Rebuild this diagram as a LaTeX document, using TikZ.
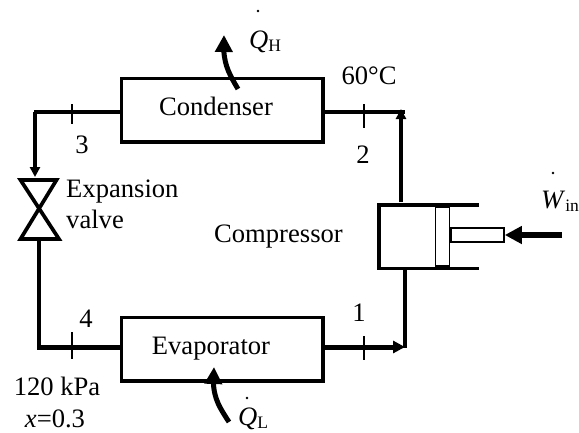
\documentclass[tikz,border=0pt]{standalone}
\usepackage{fontspec}
\setmainfont{Liberation Serif}
\usetikzlibrary{arrows.meta,bending}
\tikzset{
  x=1pt,y=-1pt,
  txt/.style={inner sep=0pt,anchor=base,font=\fontsize{26.6}{30}\selectfont},
  ltxt/.style={txt,anchor=base west},
  box/.style={draw=black,line width=3.7pt,minimum width=201.5pt,minimum height=63.5pt,inner sep=0pt,outer sep=0pt,anchor=north west},
  pipe/.style={draw=black,line width=3.5pt},
  thick pipe/.style={draw=black,line width=5pt},
  tick/.style={draw=black,line width=1.5pt},
  heat/.style={draw=black,line width=5pt,-{Triangle[length=17pt,width=17pt,flex]}},
  tip/.style={-{Triangle[length=10pt,width=10pt]}},
  bigtip/.style={-{Triangle[length=12pt,width=12pt]}},
  part/.style={draw=black,fill=white,line width=1.8pt,inner sep=0pt},
}
\newcommand{\heatlabel}[3]{\node[ltxt] at (#1) {\textit{#2}\raisebox{-0.12em}{\fontsize{17.5}{17.5}\selectfont #3}};}
\begin{document}
\begin{tikzpicture}
\useasboundingbox (0,0) rectangle (579,432);
% boxes
\node[box] (cond) at (121.5,78.5) {};
\node[box] (evap) at (121.5,317.5) {};
\node[txt] (condt) at (216,115) {Condenser};
\node[txt] (evapt) at (211,354) {Evaporator};
% corners
\coordinate (c3) at (35,112);
\coordinate (c2) at (401,112);
\coordinate (c4) at (39,347);
\coordinate (c1) at (405,347);
\coordinate (vt) at (35,177);
\coordinate (vb) at (39,240);
\coordinate (cyltop) at (401,202);
\coordinate (cylbot) at (405,269);
% pipes
\draw[draw=black,line width=3.7pt] (cond.west |- c3) -- (33.5,112);
\draw[pipe,tip] (c3) -- (vt);
\draw[draw=black,line width=4pt] (vb) -- (39,345);
\draw[thick pipe] (evap.west |- c4) -- (37,347);
\draw[thick pipe,bigtip] (evap.east |- c1) -- (c1);
\draw[pipe] (cylbot) -- (405,348);
\draw[pipe,tip] (cyltop) -- (401,109);
\draw[draw=black,line width=3.7pt] (cond.east |- c2) -- (405,112);
% ticks
\draw[tick] (72,104) -- (72,124);
\draw[tick] (364,104) -- (364,128);
\draw[tick] (72,332) -- (72,359);
\draw[tick] (364,336) -- (364,360);
% valve
\draw[draw=black,line width=3.7pt,line join=miter] (20.5,180) -- (56.5,180) -- (20.5,239) -- (59,239) -- cycle;
% cylinder
\draw[draw=black,line width=4pt] (379,204) -- (379,270);
\draw[draw=black,line width=3.5pt] (377,205) -- (479,205);
\draw[draw=black,line width=3.5pt] (377,268.5) -- (479,268.5);
\node[part,minimum width=14pt,minimum height=59pt,anchor=north west] (piston) at (434.5,206) {};
\node[part,minimum width=53pt,minimum height=14pt,anchor=west] (rod) at (450,235) {};
\coordinate (wstart) at (562,235);
\draw[draw=black,line width=6pt,-{Triangle[length=17pt,width=17pt]}] (wstart) -- (rod.east);
% heat arrows
\coordinate (qhs) at (238,89);
\coordinate (qhe) at (224,35);
\coordinate (qls) at (229,422);
\coordinate (qle) at (214,367);
\draw[heat] (qhs) .. controls (228,72) and (222,62) .. (qhe);
\draw[heat] (qls) .. controls (218,405) and (211,395) .. (qle);
% labels
\node[txt] (n3) at (82,153) {3};
\node[txt] (n2) at (363,163) {2};
\node[txt] (n4) at (86,327) {4};
\node[txt] (n1) at (359,321) {1};
\node[txt] (t60) at (369,84) {60°C};
\node[ltxt] (comp) at (214,242) {Compressor};
\node[ltxt] (exp) at (66,197) {Expansion};
\node[ltxt] (val) at (66,228) {valve};
\node[txt] (kpa) at (57,395) {120 kPa};
\node[txt] (xq) at (55,427) {\textit{x}=0.3};
\heatlabel{249,48}{Q}{H}
\heatlabel{238,425}{Q}{L}
\heatlabel{541,208}{W}{in}
\fill (258,11) circle (1.4pt);
\fill (247,398) circle (1.4pt);
\fill (553,173) circle (1.4pt);
\end{tikzpicture}
\end{document}
